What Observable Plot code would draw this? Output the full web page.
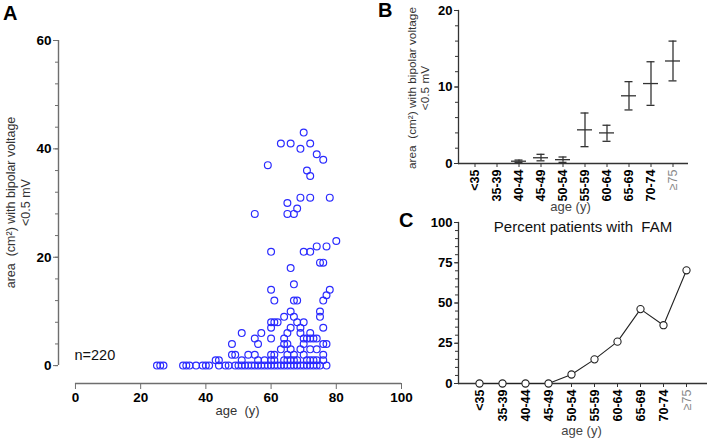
<!DOCTYPE html>
<html><head><meta charset="utf-8">
<script src="https://cdn.jsdelivr.net/npm/d3@7"></script>
<script src="https://cdn.jsdelivr.net/npm/@observablehq/plot@0.6"></script>
<style>
body{margin:0;background:#fff;font-family:"Liberation Sans",Arial,sans-serif;}
#wrap{position:relative;width:707px;height:440px;overflow:hidden;background:#fff;}
.panel{position:absolute;}
.panel svg{overflow:visible;}
.plbl{position:absolute;font-weight:bold;font-size:20px;line-height:1;color:#000;}
svg [aria-label="y-axis tick label"], svg [aria-label="x-axis tick label"]{font-weight:bold;}
</style></head><body><div id="wrap"></div>
<script>
// Panel A: age (y) vs area (cm²) with bipolar voltage <0.5 mV
const scatterAge = [
  70,63,66,72,69,74,76,59,71,72,69,72,78,65,68,55,65,67,80,74,77,60,70,72,75,76,66,67,60,78,77,61,67,68,76,75,66,64,67,75,60,61,62,68,70,60,66,69,76,51,57,65,69,72,
  55,60,64,70,71,72,73,74,
  48,56,64,65,70,76,77,
  63,66,69,72,74,
  48,49,53,55,60,61,65,67,70,76,
  43,44,51,56,58,60,61,64,65,66,67,68,71,72,73,74,76,
  25,26,27,33,34,35,37,39,40,41,44,46,47,49,50,51,52,53,54,55,56,57,58,59,60,61,62,63,64,65,66,67,68,69,70,71,72,73,74,75,77
];
const scatterArea = [
  43,41,41,41,40,39,38,37,36,35,31,31,31,30,29,28,28,28,23,22,22,21,21,21,19,19,18,15,14,14,13,12,12,12,12,10,10,9,9,9,8,8,8,8,8,7,7,7,7,6,6,6,6,6,
  5,5,5,5,5,5,5,5,
  4,4,4,4,4,4,4,
  3,3,3,3,3,
  2,2,2,2,2,2,2,2,2,2,
  1,1,1,1,1,1,1,1,1,1,1,1,1,1,1,1,1,
  0,0,0,0,0,0,0,0,0,0,0,0,0,0,0,0,0,0,0,0,0,0,0,0,0,0,0,0,0,0,0,0,0,0,0,0,0,0,0,0,0
];
const xTicksA = [0,20,40,60,80,100];
const yTicksA = [0,20,40,60];
const nLabel = "n=220";

// Panel B: mean area with error bars per age group
const ageGroups = ["<35","35-39","40-44","45-49","50-54","55-59","60-64","65-69","70-74","≥75"];
const meanB = [null,null,0.3,0.75,0.5,4.4,4.0,8.85,10.45,13.4];
const lowB  = [null,null,0.15,0.35,0.15,2.2,2.9,7.0,7.6,10.8];
const highB = [null,null,0.45,1.2,0.85,6.6,5.0,10.7,13.3,16.0];
const yTicksB = [0,10,20];

// Panel C: percent patients with FAM
const pctC = [0,0,0,0,5.6,15,26,46.2,36.2,70.3];
const yTicksC = [0,25,50,75,100];

const yLabel = "area  (cm²) with bipolar voltage\n<0.5 mV";
const FONT = "Liberation Sans, Arial, sans-serif";
const wrap = document.getElementById("wrap");

function place(node, left, top){
  const d = document.createElement("div");
  d.className = "panel"; d.style.left = left+"px"; d.style.top = top+"px";
  d.appendChild(node); wrap.appendChild(d);
}
function panelLabel(t, left, top){
  const d = document.createElement("div");
  d.className = "plbl"; d.textContent = t; d.style.left = left+"px"; d.style.top = top+"px";
  wrap.appendChild(d);
}
panelLabel("A", 3, 3);
panelLabel("B", 378, 0);
panelLabel("C", 399, 210);

// ---------- Panel A ----------
const scatter = scatterAge.map((a,i)=>({age:a, area:scatterArea[i]}));
const xMinA = -5.2, yMinA = -3.3;
const axA = "#6e6e6e";
const plotA = Plot.plot({
  width:420, height:440, marginLeft:58, marginRight:19, marginTop:40, marginBottom:57,
  x:{domain:[xMinA,100]}, y:{domain:[yMinA,60]},
  style:{fontFamily:FONT, background:"transparent", color:"#000"},
  marks:[
    Plot.ruleX([xMinA],{y1:0, y2:60, stroke:axA, strokeWidth:1.4}),
    Plot.ruleY([yMinA],{x1:0, x2:100, stroke:axA, strokeWidth:1.4}),
    Plot.axisY({ticks:d3.range(0,61,4), tickSize:3, text:null, stroke:axA, label:null}),
    Plot.axisY({ticks:yTicksA, tickSize:5, tickPadding:2, fontSize:13.5, stroke:axA, fill:"#000", label:null}),
    Plot.axisX({ticks:xTicksA, tickSize:6, tickPadding:3, fontSize:13.5, stroke:axA, fill:"#000", label:null}),
    Plot.dot(scatter,{x:"age", y:"area", r:3.4, stroke:"#2b2bff", strokeWidth:1.2, fill:"none"}),
    Plot.text([yLabel],{frameAnchor:"left", textAnchor:"middle", lineAnchor:"middle", rotate:-90, dx:-40.5, dy:-9.5, fontSize:12.5, lineHeight:1.15, fill:"#333"}),
    Plot.text(["age  (y)"],{frameAnchor:"bottom", lineAnchor:"middle", dx:7.5, dy:27, fontSize:13, fill:"#333"}),
    Plot.text([nLabel],{frameAnchor:"bottom-left", textAnchor:"start", lineAnchor:"middle", dx:16, dy:-28, fontSize:14.5, fill:"#111"})
  ]
});
place(plotA, 0, 0);

// ---------- Panel B ----------
const dataB = ageGroups.map((g,i)=>({group:g, mean:meanB[i], low:lowB[i], high:highB[i]})).filter(d=>d.mean!=null);
const axB = "#333";
const plotB = Plot.plot({
  width:307, height:220, marginLeft:58, marginRight:19, marginTop:10, marginBottom:57,
  x:{type:"band", domain:ageGroups, paddingInner:0.32, paddingOuter:0.38},
  y:{domain:[0,20]},
  style:{fontFamily:FONT, background:"transparent", color:"#000"},
  marks:[
    Plot.ruleY([0],{stroke:axB, strokeWidth:1.3}),
    Plot.frame({anchor:"left", stroke:axB, strokeWidth:1.3}),
    Plot.axisY({ticks:d3.range(0,21,2), tickSize:3, text:null, stroke:axB, label:null}),
    Plot.axisY({ticks:yTicksB, tickSize:4, tickPadding:2, fontSize:13, stroke:axB, fill:"#000", label:null}),
    Plot.axisX({tickRotate:-90, tickSize:4, tickPadding:2, fontSize:12.5, stroke:axB, fill:"#000", label:null}),
    Plot.ruleX(dataB,{x:"group", y1:"low", y2:"high", stroke:"#333", strokeWidth:1.3}),
    Plot.tickY(dataB,{x:"group", y:"mean", stroke:"#333", strokeWidth:1.3}),
    Plot.tickY(dataB,{x:"group", y:"low", insetLeft:3.5, insetRight:3.5, stroke:"#333", strokeWidth:1.3}),
    Plot.tickY(dataB,{x:"group", y:"high", insetLeft:3.5, insetRight:3.5, stroke:"#333", strokeWidth:1.3}),
    Plot.text([yLabel],{frameAnchor:"left", textAnchor:"middle", lineAnchor:"middle", rotate:-90, dx:-40.5, dy:1, fontSize:11.8, lineHeight:1.15, fill:"#333"}),
    Plot.text(["age (y)"],{frameAnchor:"bottom", lineAnchor:"middle", dx:-3, dy:43, fontSize:13, fill:"#444"})
  ]
});
place(plotB, 400, 0);

// ---------- Panel C ----------
const dataC = ageGroups.map((g,i)=>({group:g, pct:pctC[i]}));
const plotC = Plot.plot({
  width:307, height:225, marginLeft:58, marginRight:0, marginTop:7, marginBottom:57,
  x:{type:"point", domain:ageGroups, padding:0.71},
  y:{domain:[0,100]},
  style:{fontFamily:FONT, background:"transparent", color:"#000"},
  marks:[
    Plot.ruleY([0],{stroke:axB, strokeWidth:1.3}),
    Plot.frame({anchor:"left", stroke:axB, strokeWidth:1.3}),
    Plot.axisY({ticks:d3.range(0,101,5), tickSize:3, text:null, stroke:axB, label:null}),
    Plot.axisY({ticks:yTicksC, tickSize:4, tickPadding:2, fontSize:13, stroke:axB, fill:"#000", label:null}),
    Plot.axisX({tickRotate:-90, tickSize:4, tickPadding:2, fontSize:12.5, stroke:axB, fill:"#000", label:null}),
    Plot.line(dataC,{x:"group", y:"pct", stroke:"#222", strokeWidth:1.1}),
    Plot.dot(dataC,{x:"group", y:"pct", r:3.6, fill:"white", stroke:"#222", strokeWidth:1.1}),
    Plot.text(["Percent patients with  FAM"],{frameAnchor:"top", lineAnchor:"middle", dy:5, fontSize:15, fill:"#111"}),
    Plot.text(["age (y)"],{frameAnchor:"bottom", lineAnchor:"middle", dx:-1.5, dy:47, fontSize:13, fill:"#444"})
  ]
});
place(plotC, 400, 215);

// the "≥" labels render lighter in the reference
wrap.querySelectorAll("text").forEach(t=>{
  if (t.textContent === "≥75") { t.setAttribute("font-weight","normal"); t.style.fontWeight="normal"; t.setAttribute("fill","#888"); }
});
</script></body></html>
